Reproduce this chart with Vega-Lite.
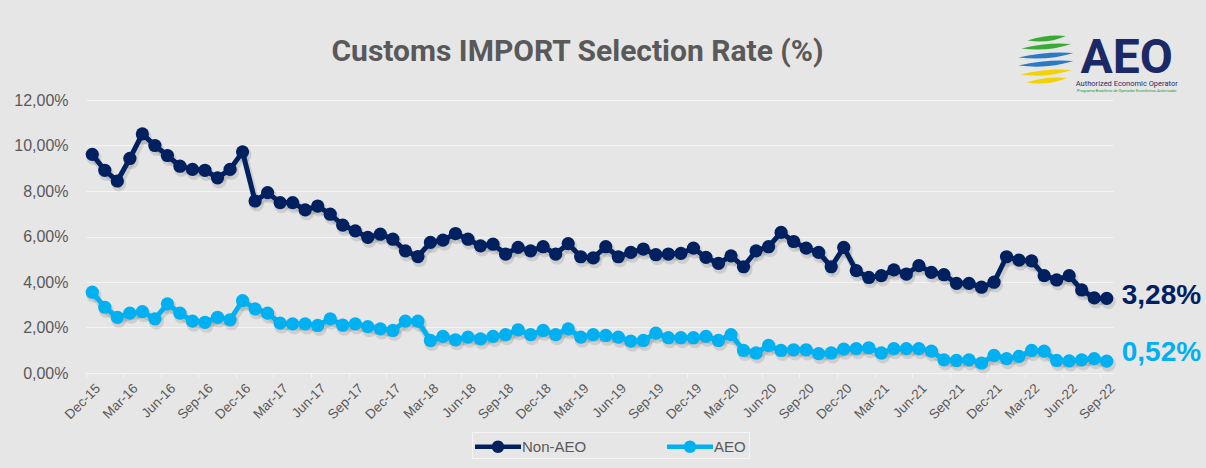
{
  "$schema": "https://vega.github.io/schema/vega-lite/v6.json",
  "width": 1027,
  "height": 273,
  "autosize": {"type": "none"},
  "padding": {"left": 86, "top": 100, "right": 93, "bottom": 95},
  "background": "#e7e6e6",
  "config": {
    "locale": {"number": {"decimal": ",", "thousands": ".", "grouping": [3], "currency": ["", " €"]}},
    "view": {"stroke": null},
    "font": "Liberation Sans"
  },
  "title": {
    "text": "Customs IMPORT Selection Rate (%)",
    "font": "Roboto",
    "fontSize": 30,
    "fontWeight": "bold",
    "color": "#595959",
    "anchor": "middle",
    "dx": -22,
    "offset": -32
  },
  "layer": [
    {
      "data": {"values": [
        {"m":"Dec-15","Non-AEO":0.0961,"AEO":0.0355},
        {"m":"Jan-16","Non-AEO":0.0891,"AEO":0.0289},
        {"m":"Feb-16","Non-AEO":0.0844,"AEO":0.0245},
        {"m":"Mar-16","Non-AEO":0.0943,"AEO":0.0263},
        {"m":"Apr-16","Non-AEO":0.1051,"AEO":0.0270},
        {"m":"May-16","Non-AEO":0.1000,"AEO":0.0238},
        {"m":"Jun-16","Non-AEO":0.0956,"AEO":0.0304},
        {"m":"Jul-16","Non-AEO":0.0909,"AEO":0.0263},
        {"m":"Aug-16","Non-AEO":0.0895,"AEO":0.0228},
        {"m":"Sep-16","Non-AEO":0.0891,"AEO":0.0223},
        {"m":"Oct-16","Non-AEO":0.0858,"AEO":0.0245},
        {"m":"Nov-16","Non-AEO":0.0895,"AEO":0.0234},
        {"m":"Dec-16","Non-AEO":0.0972,"AEO":0.0318},
        {"m":"Jan-17","Non-AEO":0.0756,"AEO":0.0282},
        {"m":"Feb-17","Non-AEO":0.0793,"AEO":0.0263},
        {"m":"Mar-17","Non-AEO":0.0749,"AEO":0.0219},
        {"m":"Apr-17","Non-AEO":0.0749,"AEO":0.0216},
        {"m":"May-17","Non-AEO":0.0717,"AEO":0.0216},
        {"m":"Jun-17","Non-AEO":0.0734,"AEO":0.0209},
        {"m":"Jul-17","Non-AEO":0.0698,"AEO":0.0238},
        {"m":"Aug-17","Non-AEO":0.0650,"AEO":0.0210},
        {"m":"Sep-17","Non-AEO":0.0625,"AEO":0.0216},
        {"m":"Oct-17","Non-AEO":0.0596,"AEO":0.0204},
        {"m":"Nov-17","Non-AEO":0.0610,"AEO":0.0194},
        {"m":"Dec-17","Non-AEO":0.0588,"AEO":0.0187},
        {"m":"Jan-18","Non-AEO":0.0537,"AEO":0.0228},
        {"m":"Feb-18","Non-AEO":0.0512,"AEO":0.0228},
        {"m":"Mar-18","Non-AEO":0.0574,"AEO":0.0143},
        {"m":"Apr-18","Non-AEO":0.0584,"AEO":0.0161},
        {"m":"May-18","Non-AEO":0.0613,"AEO":0.0146},
        {"m":"Jun-18","Non-AEO":0.0588,"AEO":0.0158},
        {"m":"Jul-18","Non-AEO":0.0559,"AEO":0.0150},
        {"m":"Aug-18","Non-AEO":0.0566,"AEO":0.0161},
        {"m":"Sep-18","Non-AEO":0.0523,"AEO":0.0169},
        {"m":"Oct-18","Non-AEO":0.0552,"AEO":0.0190},
        {"m":"Nov-18","Non-AEO":0.0537,"AEO":0.0169},
        {"m":"Dec-18","Non-AEO":0.0555,"AEO":0.0187},
        {"m":"Jan-19","Non-AEO":0.0523,"AEO":0.0169},
        {"m":"Feb-19","Non-AEO":0.0569,"AEO":0.0194},
        {"m":"Mar-19","Non-AEO":0.0511,"AEO":0.0158},
        {"m":"Apr-19","Non-AEO":0.0506,"AEO":0.0169},
        {"m":"May-19","Non-AEO":0.0555,"AEO":0.0165},
        {"m":"Jun-19","Non-AEO":0.0511,"AEO":0.0158},
        {"m":"Jul-19","Non-AEO":0.0530,"AEO":0.0140},
        {"m":"Aug-19","Non-AEO":0.0545,"AEO":0.0143},
        {"m":"Sep-19","Non-AEO":0.0520,"AEO":0.0175},
        {"m":"Oct-19","Non-AEO":0.0523,"AEO":0.0155},
        {"m":"Nov-19","Non-AEO":0.0526,"AEO":0.0155},
        {"m":"Dec-19","Non-AEO":0.0549,"AEO":0.0155},
        {"m":"Jan-20","Non-AEO":0.0508,"AEO":0.0161},
        {"m":"Feb-20","Non-AEO":0.0482,"AEO":0.0143},
        {"m":"Mar-20","Non-AEO":0.0515,"AEO":0.0169},
        {"m":"Apr-20","Non-AEO":0.0467,"AEO":0.0099},
        {"m":"May-20","Non-AEO":0.0537,"AEO":0.0088},
        {"m":"Jun-20","Non-AEO":0.0555,"AEO":0.0121},
        {"m":"Jul-20","Non-AEO":0.0618,"AEO":0.0099},
        {"m":"Aug-20","Non-AEO":0.0578,"AEO":0.0102},
        {"m":"Sep-20","Non-AEO":0.0549,"AEO":0.0102},
        {"m":"Oct-20","Non-AEO":0.0530,"AEO":0.0085},
        {"m":"Nov-20","Non-AEO":0.0467,"AEO":0.0088},
        {"m":"Dec-20","Non-AEO":0.0552,"AEO":0.0105},
        {"m":"Jan-21","Non-AEO":0.0450,"AEO":0.0107},
        {"m":"Feb-21","Non-AEO":0.0420,"AEO":0.0111},
        {"m":"Mar-21","Non-AEO":0.0428,"AEO":0.0088},
        {"m":"Apr-21","Non-AEO":0.0453,"AEO":0.0107},
        {"m":"May-21","Non-AEO":0.0435,"AEO":0.0107},
        {"m":"Jun-21","Non-AEO":0.0472,"AEO":0.0107},
        {"m":"Jul-21","Non-AEO":0.0442,"AEO":0.0096},
        {"m":"Aug-21","Non-AEO":0.0432,"AEO":0.0058},
        {"m":"Sep-21","Non-AEO":0.0394,"AEO":0.0055},
        {"m":"Oct-21","Non-AEO":0.0394,"AEO":0.0058},
        {"m":"Nov-21","Non-AEO":0.0377,"AEO":0.0044},
        {"m":"Dec-21","Non-AEO":0.0399,"AEO":0.0077},
        {"m":"Jan-22","Non-AEO":0.0511,"AEO":0.0063},
        {"m":"Feb-22","Non-AEO":0.0496,"AEO":0.0073},
        {"m":"Mar-22","Non-AEO":0.0493,"AEO":0.0099},
        {"m":"Apr-22","Non-AEO":0.0428,"AEO":0.0096},
        {"m":"May-22","Non-AEO":0.0409,"AEO":0.0055},
        {"m":"Jun-22","Non-AEO":0.0428,"AEO":0.0053},
        {"m":"Jul-22","Non-AEO":0.0365,"AEO":0.0058},
        {"m":"Aug-22","Non-AEO":0.0330,"AEO":0.0063},
        {"m":"Sep-22","Non-AEO":0.0328,"AEO":0.0052}
      ]},
      "transform": [{"fold": ["Non-AEO", "AEO"], "as": ["s", "v"]}],
      "encoding": {
        "x": {
          "field": "m", "type": "ordinal", "sort": null,
          "scale": {"type": "band", "paddingInner": 0, "paddingOuter": 0},
          "axis": {
            "title": null,
            "values": ["Dec-15","Mar-16","Jun-16","Sep-16","Dec-16","Mar-17","Jun-17","Sep-17","Dec-17","Mar-18","Jun-18","Sep-18","Dec-18","Mar-19","Jun-19","Sep-19","Dec-19","Mar-20","Jun-20","Sep-20","Dec-20","Mar-21","Jun-21","Sep-21","Dec-21","Mar-22","Jun-22","Sep-22"],
            "labelAngle": -45,
            "labelFontSize": 13.5,
            "labelColor": "#595959",
            "domainColor": "#f4f4f4",
            "tickColor": "#f4f4f4",
            "tickSize": 5,
            "bandPosition": 0,
            "labelOffset": 1,
            "labelPadding": 3,
            "grid": false
          }
        },
        "y": {
          "field": "v", "type": "quantitative",
          "scale": {"domain": [0, 0.12], "nice": false},
          "axis": {
            "title": null,
            "format": ".2%",
            "values": [0, 0.02, 0.04, 0.06, 0.08, 0.1, 0.12],
            "labelFontSize": 16,
            "labelColor": "#595959",
            "gridColor": "#f4f4f4",
            "gridWidth": 1.2,
            "domain": false,
            "ticks": false,
            "labelPadding": 18
          }
        },
        "color": {
          "field": "s", "type": "nominal",
          "scale": {"domain": ["Non-AEO", "AEO"], "range": ["#002060", "#00b0f0"]},
          "legend": {
            "orient": "none",
            "legendX": 386,
            "legendY": 332,
            "direction": "horizontal",
            "title": null,
            "symbolType": "M-1,-0.2L3,-0.2L3,0.2L-1,0.2Z M1.54,0A0.54,0.54 0 1,1 0.46,0A0.54,0.54 0 1,1 1.54,0Z",
            "symbolSize": 529,
            "symbolStrokeWidth": 0,
            "labelFontSize": 15,
            "labelColor": "#595959",
            "columnPadding": 80,
            "labelOffset": 24,
            "padding": 3,
            "strokeColor": "#f4f4f4"
          }
        }
      },
      "layer": [
        {
          "mark": {"type": "line", "strokeWidth": 7.5, "opacity": 0.1, "yOffset": 3, "xOffset": 1.5},
          "encoding": {"color": {"value": "#000000"}, "detail": {"field": "s"}}
        },
        {
          "mark": {"type": "point", "filled": true, "size": 230, "opacity": 0.1, "yOffset": 3, "xOffset": 1.5},
          "encoding": {"color": {"value": "#000000"}, "detail": {"field": "s"}}
        },
        {"mark": {"type": "line", "strokeWidth": 5}},
        {"mark": {"type": "point", "filled": true, "opacity": 1, "size": 175}},
        {
          "transform": [{"filter": "datum.m == 'Sep-22' && datum.s == 'Non-AEO'"}],
          "mark": {"type": "text", "align": "left", "baseline": "middle", "dx": 15, "dy": -2, "fontSize": 28, "fontWeight": "bold"},
          "encoding": {"text": {"field": "v", "format": ".2%"}}
        },
        {
          "transform": [{"filter": "datum.m == 'Sep-22' && datum.s == 'AEO'"}],
          "mark": {"type": "text", "align": "left", "baseline": "middle", "dx": 15, "dy": -8, "fontSize": 28, "fontWeight": "bold"},
          "encoding": {"text": {"field": "v", "format": ".2%"}}
        }
      ]
    },
    {
      "data": {"values": [{"t": "green"}]},
      "mark": {"type": "point", "filled": true, "strokeWidth": 0, "opacity": 1, "size": 3600, "xOffset": -8.5, "color": "#3aaa35",
        "shape": "M-0.69,-0.72Q0,-0.94 0.59,-0.87Q0,-0.6 -0.69,-0.72Z M-0.89,-0.45Q0,-0.67 0.76,-0.6Q0,-0.33 -0.89,-0.45Z"},
      "encoding": {"x": {"datum": "May-22", "type": "ordinal"}, "y": {"datum": 0.1367, "type": "quantitative"}}
    },
    {
      "data": {"values": [{"t": "blue"}]},
      "mark": {"type": "point", "filled": true, "strokeWidth": 0, "opacity": 1, "size": 3600, "xOffset": -8.5, "color": "#2b7bc4",
        "shape": "M-0.99,-0.15Q0,-0.37 0.84,-0.3Q0,-0.03 -0.99,-0.15Z M-0.99,0.12Q0,-0.1 0.84,-0.03Q0,0.24 -0.99,0.12Z"},
      "encoding": {"x": {"datum": "May-22", "type": "ordinal"}, "y": {"datum": 0.1367, "type": "quantitative"}}
    },
    {
      "data": {"values": [{"t": "yellow"}]},
      "mark": {"type": "point", "filled": true, "strokeWidth": 0, "opacity": 1, "size": 3600, "xOffset": -8.5, "color": "#f2d200",
        "shape": "M-0.91,0.42Q0,0.2 0.77,0.27Q0,0.54 -0.91,0.42Z M-0.73,0.68Q0,0.46 0.62,0.53Q0,0.8 -0.73,0.68Z"},
      "encoding": {"x": {"datum": "May-22", "type": "ordinal"}, "y": {"datum": 0.1367, "type": "quantitative"}}
    },
    {
      "data": {"values": [{"t": "AEO"}]},
      "mark": {"type": "text", "align": "center", "baseline": "alphabetic", "dx": 20, "fontSize": 48, "fontWeight": "bold", "font": "Roboto", "color": "#1b2a66"},
      "encoding": {"x": {"datum": "Sep-22", "type": "ordinal"}, "y": {"datum": 0.1319, "type": "quantitative"}, "text": {"field": "t"}}
    },
    {
      "data": {"values": [{"t": "Authorized Economic Operator"}]},
      "mark": {"type": "text", "align": "center", "baseline": "alphabetic", "dx": 20, "fontSize": 7.5, "font": "Roboto", "color": "#1b2a66"},
      "encoding": {"x": {"datum": "Sep-22", "type": "ordinal"}, "y": {"datum": 0.1262, "type": "quantitative"}, "text": {"field": "t"}}
    },
    {
      "data": {"values": [{"t": "Programa Brasileiro de Operador Econômico Autorizado"}]},
      "mark": {"type": "text", "align": "center", "baseline": "alphabetic", "dx": 20, "fontSize": 4, "font": "Roboto", "color": "#1e9a3a"},
      "encoding": {"x": {"datum": "Sep-22", "type": "ordinal"}, "y": {"datum": 0.1234, "type": "quantitative"}, "text": {"field": "t"}}
    }
  ]
}
